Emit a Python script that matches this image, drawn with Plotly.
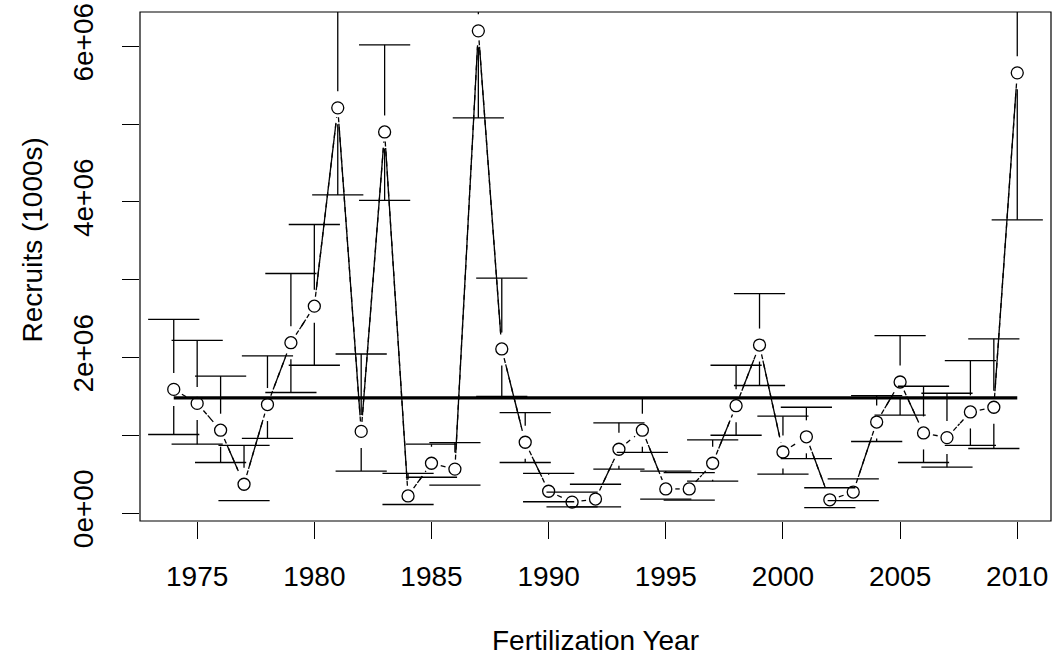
import math
import plotly.graph_objects as go

# Recruitment estimates by fertilization year (numbers in 1000s)
years = list(range(1974, 2011))
recruits = [1.59e6, 1.41e6, 1.065e6, 0.37e6, 1.395e6, 2.19e6, 2.66e6, 5.21e6, 1.05e6, 4.90e6,
            0.22e6, 0.64e6, 0.565e6, 6.20e6, 2.11e6, 0.91e6, 0.28e6, 0.14e6, 0.18e6, 0.82e6,
            1.065e6, 0.31e6, 0.31e6, 0.64e6, 1.38e6, 2.16e6, 0.785e6, 0.98e6, 0.17e6, 0.27e6,
            1.17e6, 1.685e6, 1.03e6, 0.97e6, 1.30e6, 1.36e6, 5.66e6]
upper_ci = [2.49e6, 2.22e6, 1.76e6, 0.87e6, 2.02e6, 3.08e6, 3.71e6, 7.9e6, 2.045e6, 6.02e6,
            0.51e6, 0.885e6, 0.905e6, 7.4e6, 3.02e6, 1.29e6, 0.51e6, 0.27e6, 0.37e6, 1.16e6,
            1.48e6, 0.54e6, 0.52e6, 0.94e6, 1.90e6, 2.82e6, 1.245e6, 1.36e6, 0.325e6, 0.44e6,
            1.51e6, 2.28e6, 1.63e6, 1.54e6, 1.96e6, 2.24e6, 7.6e6]
lower_ci = [1.01e6, 0.885e6, 0.65e6, 0.16e6, 0.96e6, 1.55e6, 1.90e6, 4.09e6, 0.54e6, 4.02e6,
            0.11e6, 0.46e6, 0.36e6, 5.08e6, 1.50e6, 0.65e6, 0.145e6, 0.08e6, 0.08e6, 0.565e6,
            0.78e6, 0.18e6, 0.165e6, 0.41e6, 1.0e6, 1.64e6, 0.50e6, 0.70e6, 0.07e6, 0.16e6,
            0.92e6, 1.26e6, 0.65e6, 0.59e6, 0.87e6, 0.83e6, 3.77e6]
mean_recruits = 1.48e6

x_ticks = [1975, 1980, 1985, 1990, 1995, 2000, 2005, 2010]
y_ticks = [0, 1e6, 2e6, 3e6, 4e6, 5e6, 6e6]
y_tick_text = ["0e+00", "", "2e+06", "", "4e+06", "", "6e+06"]

# page geometry
W, H = 1053, 660
ML, MR, MT, MB = 140, 2, 12, 139
PW, PH = W - ML - MR, H - MT - MB


def padded(lo, hi, f=0.04):
    d = (hi - lo) * f
    return [lo - d, hi + d]


XR = padded(min(years), max(years))
YR = padded(min(recruits), max(recruits))
sx = PW / (XR[1] - XR[0])   # px per year
sy = PH / (YR[1] - YR[0])   # px per unit


def gapped_path(xs, ys, gap_px):
    """Segments between consecutive points, trimmed by gap_px at each end."""
    ox, oy = [], []
    for i in range(len(xs) - 1):
        dx = (xs[i + 1] - xs[i]) * sx
        dy = (ys[i + 1] - ys[i]) * sy
        L = math.hypot(dx, dy)
        if L <= 2 * gap_px:
            continue
        ux, uy = dx / L, dy / L
        ox += [xs[i] + gap_px * ux / sx, xs[i + 1] - gap_px * ux / sx, None]
        oy += [ys[i] + gap_px * uy / sy, ys[i + 1] - gap_px * uy / sy, None]
    return ox, oy


# confidence intervals: stems leave a gap around each point, wide caps
bar_gap = 16.5 / sy
cap_half = 25.6 / sx
stem_x, stem_y, cap_x, cap_y = [], [], [], []
for x, y, u, lo in zip(years, recruits, upper_ci, lower_ci):
    if u > y + bar_gap:
        stem_x += [x, x, None]
        stem_y += [y + bar_gap, u, None]
    if lo < y - bar_gap:
        stem_x += [x, x, None]
        stem_y += [y - bar_gap, lo, None]
    cap_x += [x - cap_half, x + cap_half, None, x - cap_half, x + cap_half, None]
    cap_y += [u, u, None, lo, lo, None]

fig = go.Figure()
black = "black"

fig.add_trace(go.Scatter(x=stem_x, y=stem_y, mode="lines",
                         line=dict(color=black, width=1.3), hoverinfo="skip"))
fig.add_trace(go.Scatter(x=cap_x, y=cap_y, mode="lines",
                         line=dict(color=black, width=1.3), hoverinfo="skip"))

sx_s, sy_s = gapped_path(years, recruits, 16.0)
fig.add_trace(go.Scatter(x=sx_s, y=sy_s, mode="lines",
                         line=dict(color=black, width=1.3), hoverinfo="skip"))

dx_d, dy_d = gapped_path(years, recruits, 9.5)
fig.add_trace(go.Scatter(x=dx_d, y=dy_d, mode="lines",
                         line=dict(color=black, width=1.3, dash="5px,5px"), hoverinfo="skip"))

fig.add_trace(go.Scatter(x=years, y=recruits, mode="markers",
                         marker=dict(symbol="circle-open", size=12, color=black,
                                     line=dict(width=1.3, color=black)),
                         name="Recruits"))

fig.add_trace(go.Scatter(x=[years[0], years[-1]], y=[mean_recruits, mean_recruits],
                         mode="lines", line=dict(color=black, width=3.2), hoverinfo="skip"))

font = dict(family="Liberation Sans, Arial, sans-serif", size=28, color=black)

fig.update_layout(
    width=W, height=H,
    margin=dict(l=ML, r=MR, t=MT, b=MB, pad=0),
    paper_bgcolor="white", plot_bgcolor="white",
    showlegend=False,
    font=font,
    xaxis=dict(range=XR, tickmode="array", tickvals=x_ticks,
               ticktext=[str(t) for t in x_ticks],
               ticks="outside", ticklen=17, tickwidth=1.2, tickcolor=black,
               showgrid=False, zeroline=False, showline=False,
               ticklabelstandoff=13, tickfont=font),
    yaxis=dict(range=YR, tickmode="array", tickvals=y_ticks, ticktext=y_tick_text,
               ticks="outside", ticklen=17, tickwidth=1.2, tickcolor=black,
               showgrid=False, zeroline=False, showline=False,
               tickangle=-90, ticklabelstandoff=18, tickfont=font),
    shapes=[dict(type="rect", xref="paper", yref="paper", x0=0, x1=1, y0=0, y1=1,
                 line=dict(color=black, width=1.2), fillcolor="rgba(0,0,0,0)")],
    annotations=[
        dict(text="Fertilization Year", xref="paper", yref="paper", x=0.5, y=0,
             xanchor="center", yanchor="middle", yshift=-119, showarrow=False, font=font),
        dict(text="Recruits (1000s)", xref="paper", yref="paper", x=0, y=0.5,
             xanchor="center", yanchor="middle", xshift=-108, yshift=26, textangle=-90,
             showarrow=False, font=font),
    ],
)

fig.write_html("out.html")
